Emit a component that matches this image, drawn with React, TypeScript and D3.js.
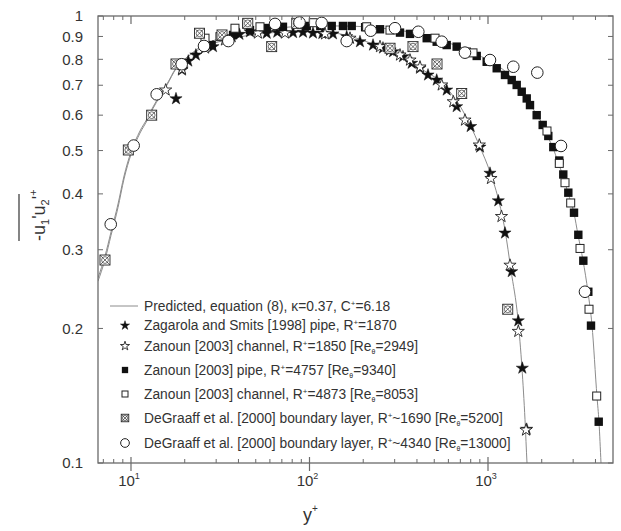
import React from 'react';
import * as d3 from 'd3';

// ---------------- data ----------------
const predictedLowX = [6.53, 7.15, 7.73, 8.46, 9.14, 10, 11.23, 12.29, 13.28, 14.54, 15.91, 17.87, 20.33, 24.36, 35.86, 52.8, 77.8, 114.5, 148.2, 226.9, 282.5, 351.8, 432.5, 538.3, 612.6, 696.8, 793.2, 902, 1026, 1138, 1245, 1345, 1473, 1550, 1612, 1654, 1680];
const predictedLowY = [0.2594, 0.2904, 0.3287, 0.3797, 0.4385, 0.4964, 0.5531, 0.5884, 0.6257, 0.6656, 0.7045, 0.7651, 0.8054, 0.844, 0.888, 0.912, 0.921, 0.921, 0.912, 0.866, 0.839, 0.801, 0.757, 0.715, 0.676, 0.629, 0.571, 0.509, 0.448, 0.392, 0.332, 0.27, 0.209, 0.163, 0.125, 0.1, 0.09];
const predictedHighX = [6.53, 7.15, 7.73, 8.46, 9.14, 10, 11.23, 12.29, 13.28, 14.54, 15.91, 17.87, 20.33, 24.36, 35.86, 52.8, 77.8, 114.5, 148.2, 282.5, 432.5, 538.3, 670.5, 824.1, 1026, 1278, 1511, 1719, 1882, 2033, 2169, 2313, 2468, 2632, 2807, 3033, 3193, 3406, 3633, 3824, 4080, 4186, 4296, 4350];
const predictedHighY = [0.255, 0.285, 0.323, 0.373, 0.432, 0.49, 0.547, 0.583, 0.621, 0.661, 0.701, 0.762, 0.803, 0.852, 0.902, 0.93, 0.945, 0.95, 0.95, 0.935, 0.907, 0.884, 0.857, 0.827, 0.793, 0.7455, 0.69, 0.635, 0.6, 0.5705, 0.536, 0.507, 0.471, 0.4385, 0.402, 0.362, 0.324, 0.284, 0.241, 0.2035, 0.1405, 0.1235, 0.1, 0.09];

// Zagarola and Smits [1998] pipe, R+=1870 (filled stars)
const zagarolaX = [17.87, 19.3, 20.94, 23.1, 28.8, 36.7, 40.5, 46.4, 57.6, 66, 80.9, 92, 104.6, 118, 135.4, 161.6, 191.8, 226.9, 258, 293.7, 334, 373.6, 415.9, 461.2, 516, 587, 667.6, 799.8, 902, 1026, 1142, 1245, 1358, 1478, 1557, 1648];
const zagarolaY = [0.653, 0.757, 0.793, 0.818, 0.854, 0.899, 0.91, 0.922, 0.915, 0.92, 0.918, 0.92, 0.916, 0.914, 0.912, 0.899, 0.876, 0.861, 0.848, 0.832, 0.811, 0.784, 0.764, 0.738, 0.719, 0.683, 0.627, 0.566, 0.509, 0.445, 0.386, 0.327, 0.268, 0.208, 0.163, 0.119];

// Zanoun [2003] channel, R+=1850 (open stars)
const zanounChLowX = [15.64, 19.31, 26.0, 33.6, 51.4, 72.9, 122.2, 168.6, 248.3, 282.5, 321.4, 365.6, 415.9, 550.4, 639, 743, 894, 1039, 1190, 1328, 1478, 1633];
const zanounChLowY = [0.683, 0.761, 0.848, 0.884, 0.916, 0.916, 0.912, 0.892, 0.854, 0.839, 0.818, 0.797, 0.769, 0.701, 0.643, 0.585, 0.5145, 0.433, 0.356, 0.277, 0.197, 0.1185];

// Zanoun [2003] pipe, R+=4757 (filled squares)
const zanounPipeX = [28.3, 37.3, 46.4, 57.6, 71.0, 96.5, 115, 133.2, 154, 172.4, 205, 248.3, 321.4, 365.6, 453.6, 516, 587, 667.6, 760, 864.5, 983.3, 1119, 1245, 1358, 1448, 1545, 1648, 1719, 1874, 2025, 2177, 2322, 2508, 2641, 2818, 3033, 3206, 3420, 3647, 3776, 4171];
const zanounPipeY = [0.861, 0.907, 0.93, 0.94, 0.946, 0.95, 0.95, 0.95, 0.95, 0.95, 0.944, 0.934, 0.918, 0.912, 0.892, 0.876, 0.861, 0.854, 0.832, 0.814, 0.79, 0.764, 0.738, 0.719, 0.701, 0.677, 0.654, 0.632, 0.6, 0.5705, 0.539, 0.509, 0.475, 0.442, 0.4025, 0.363, 0.324, 0.2835, 0.2416, 0.2029, 0.1237];

// Zanoun [2003] channel, R+=4873 (open squares)
const zanounChHighX = [25.98, 31.5, 38.24, 44.5, 52.8, 105, 209.1, 282.5, 505, 824, 2140, 2508, 2700, 2906, 3277, 3680, 4064];
const zanounChHighY = [0.892, 0.899, 0.939, 0.96, 0.946, 0.966, 0.946, 0.93, 0.892, 0.827, 0.553, 0.468, 0.4237, 0.3817, 0.302, 0.2208, 0.1412];

// DeGraaff et al. [2000] boundary layer, R+~1690 (crossed squares)
const degraaffLowX = [7.15, 9.66, 13.06, 17.87, 24.2, 32.35, 45.1, 61.4, 84.8, 282.5, 380, 518, 712.3, 1290];
const degraaffLowY = [0.2845, 0.5015, 0.6, 0.781, 0.915, 0.907, 0.963, 0.854, 0.963, 0.847, 0.854, 0.781, 0.671, 0.2208];

// DeGraaff et al. [2000] boundary layer, R+~4340 (open circles)
const degraaffHighX = [7.7, 10.35, 13.93, 19.23, 25.65, 35.1, 64.1, 87.9, 117.0, 161.6, 220.2, 301.3, 407, 550.4, 743, 1026, 1386, 1889, 2564, 3494];
const degraaffHighY = [0.342, 0.513, 0.668, 0.78, 0.857, 0.879, 0.96, 0.967, 0.965, 0.879, 0.927, 0.939, 0.922, 0.876, 0.828, 0.797, 0.77, 0.747, 0.512, 0.2416];

const yTickValues = [0.1, 0.2, 0.3, 0.4, 0.5, 0.6, 0.7, 0.8, 0.9, 1];
const yTickLabels = ['0.1', '0.2', '0.3', '0.4', '0.5', '0.6', '0.7', '0.8', '0.9', '1'];
const xMajorTicks = [10, 100, 1000];
const xMajorExponents = ['1', '2', '3'];
const xMinorTicks = [7, 8, 9, 20, 30, 40, 50, 60, 70, 80, 90, 200, 300, 400, 500, 600, 700, 800, 900, 2000, 3000, 4000];

type Seg = { t: string; k?: 'sup' | 'sub' };
const legendLabels: Seg[][] = [
  [{ t: 'Predicted, equation (8), κ=0.37, C' }, { t: '+', k: 'sup' }, { t: '=6.18' }],
  [{ t: 'Zagarola and Smits [1998] pipe, R' }, { t: '+', k: 'sup' }, { t: '=1870' }],
  [{ t: 'Zanoun [2003] channel, R' }, { t: '+', k: 'sup' }, { t: '=1850 [Re' }, { t: 'θ', k: 'sub' }, { t: '=2949]' }],
  [{ t: 'Zanoun [2003] pipe, R' }, { t: '+', k: 'sup' }, { t: '=4757 [Re' }, { t: 'θ', k: 'sub' }, { t: '=9340]' }],
  [{ t: 'Zanoun [2003] channel, R' }, { t: '+', k: 'sup' }, { t: '=4873 [Re' }, { t: 'θ', k: 'sub' }, { t: '=8053]' }],
  [{ t: 'DeGraaff et al. [2000] boundary layer, R' }, { t: '+', k: 'sup' }, { t: '~1690 [Re' }, { t: 'θ', k: 'sub' }, { t: '=5200]' }],
  [{ t: 'DeGraaff et al. [2000] boundary layer, R' }, { t: '+', k: 'sup' }, { t: '~4340 [Re' }, { t: 'θ', k: 'sub' }, { t: '=13000]' }],
];
const legendKinds = ['line', 'starFilled', 'starOpen', 'squareFilled', 'squareOpen', 'squareCrossed', 'circle'];

// ---------------- layout ----------------
const W = 621, H = 531;
const L = 98, R = 613, T = 16, B = 463;
const FONT = '"Liberation Sans", Arial, Helvetica, sans-serif';
const AXIS = '#6a6a6a';
const TEXT = '#333';
const legendRowY = [306, 325.5, 346, 370, 394, 418, 443];

function Marker({ kind, cx, cy, s = 1 }: { kind: string; cx: number; cy: number; s?: number }) {
  const tr = `translate(${cx},${cy})`;
  if (kind === 'starFilled' || kind === 'starOpen') {
    const d = d3.symbol(d3.symbolStar, 46 * s * s)() as string;
    return kind === 'starFilled'
      ? <path d={d} transform={tr} fill="#111" stroke="#111" strokeWidth={0.5} />
      : <path d={d} transform={tr} fill="#fff" stroke="#222" strokeWidth={0.9} />;
  }
  if (kind === 'squareFilled') {
    const h = 4.2 * s;
    return <rect x={cx - h} y={cy - h} width={2 * h} height={2 * h} fill="#111" />;
  }
  if (kind === 'squareOpen') {
    const h = 4 * s;
    return <rect x={cx - h} y={cy - h} width={2 * h} height={2 * h} fill="#fff" stroke="#222" strokeWidth={1} />;
  }
  if (kind === 'squareCrossed') {
    const h = 5 * s;
    return (
      <g>
        <rect x={cx - h} y={cy - h} width={2 * h} height={2 * h} fill="#fff" stroke="#222" strokeWidth={0.9} />
        <line x1={cx - h} y1={cy - h} x2={cx + h} y2={cy + h} stroke="#333" strokeWidth={0.7} />
        <line x1={cx - h} y1={cy + h} x2={cx + h} y2={cy - h} stroke="#333" strokeWidth={0.7} />
        <circle cx={cx} cy={cy} r={3.4 * s} fill="none" stroke="#333" strokeWidth={0.7} />
      </g>
    );
  }
  if (kind === 'circle') {
    return <circle cx={cx} cy={cy} r={5.8 * s} fill="#fff" stroke="#222" strokeWidth={1} />;
  }
  return null;
}

function LegendText({ segs, x, y }: { segs: Seg[]; x: number; y: number }) {
  const parts: any[] = [];
  let shift = 0;
  segs.forEach((sg, i) => {
    let target = 0;
    let fs: number | undefined;
    if (sg.k === 'sup') { target = -5; fs = 8; }
    if (sg.k === 'sub') { target = 3; fs = 7; }
    const dy = target - shift;
    shift = target;
    parts.push(<tspan key={i} dy={dy} fontSize={fs}>{sg.t}</tspan>);
  });
  return <text x={x} y={y} fontSize={13.8} fill={TEXT} fontFamily={FONT}>{parts}</text>;
}

export default function App() {
  const x = d3.scaleLog().domain([6.534, 5015]).range([L, R]);
  const y = d3.scaleLog().domain([0.1, 1]).range([B, T]);
  const line = d3.line<[number, number]>().x(d => x(d[0])).y(d => y(d[1])).curve(d3.curveMonotoneX);

  const zip = (xs: number[], ys: number[]) => xs.map((v, i) => [v, ys[i]] as [number, number]);

  const series = [
    { kind: 'starFilled', pts: zip(zagarolaX, zagarolaY) },
    { kind: 'starOpen', pts: zip(zanounChLowX, zanounChLowY) },
    { kind: 'squareFilled', pts: zip(zanounPipeX, zanounPipeY) },
    { kind: 'squareOpen', pts: zip(zanounChHighX, zanounChHighY) },
    { kind: 'squareCrossed', pts: zip(degraaffLowX, degraaffLowY) },
    { kind: 'circle', pts: zip(degraaffHighX, degraaffHighY) },
  ];

  return (
    <div style={{ position: 'absolute', left: 0, top: 0 }}>
      <svg width={W} height={H} style={{ display: 'block', background: '#fff' }}>
        <defs>
          <clipPath id="plotClip">
            <rect x={L} y={T} width={R - L} height={B - T} />
          </clipPath>
        </defs>

        {/* predicted curves */}
        <g clipPath="url(#plotClip)" fill="none" stroke="#8c8c8c" strokeWidth={1}>
          <path d={line(zip(predictedLowX, predictedLowY)) as string} />
          <path d={line(zip(predictedHighX, predictedHighY)) as string} />
        </g>

        {/* data markers */}
        <g clipPath="url(#plotClip)">
          {series.map((s, si) => (
            <g key={si}>
              {s.pts.map((p, i) => (
                <Marker key={i} kind={s.kind} cx={x(p[0])} cy={y(p[1])} />
              ))}
            </g>
          ))}
        </g>

        {/* frame */}
        <rect x={L} y={T} width={R - L} height={B - T} fill="none" stroke={AXIS} strokeWidth={1.3} />

        {/* y ticks */}
        {yTickValues.map((v, i) => (
          <g key={'yt' + i}>
            <line x1={L} x2={L + 5} y1={y(v)} y2={y(v)} stroke={AXIS} strokeWidth={1} />
            <line x1={R} x2={R - 5} y1={y(v)} y2={y(v)} stroke={AXIS} strokeWidth={1} />
            <text x={83} y={y(v)} dy="0.35em" textAnchor="end" fontSize={15} fill={TEXT} fontFamily={FONT}>{yTickLabels[i]}</text>
          </g>
        ))}

        {/* x ticks */}
        {xMinorTicks.map((v, i) => (
          <g key={'xm' + i}>
            <line x1={x(v)} x2={x(v)} y1={B} y2={B - 4} stroke={AXIS} strokeWidth={1} />
            <line x1={x(v)} x2={x(v)} y1={T} y2={T + 4} stroke={AXIS} strokeWidth={1} />
          </g>
        ))}
        {xMajorTicks.map((v, i) => (
          <g key={'xM' + i}>
            <line x1={x(v)} x2={x(v)} y1={B - 6} y2={B + 8} stroke={AXIS} strokeWidth={1.2} />
            <line x1={x(v)} x2={x(v)} y1={T} y2={T + 8} stroke={AXIS} strokeWidth={1.2} />
            <text x={x(v) - 2} y={486} textAnchor="middle" fontSize={15} fill={TEXT} fontFamily={FONT}>
              10<tspan dy={-7} fontSize={9}>{xMajorExponents[i]}</tspan>
            </text>
          </g>
        ))}

        {/* axis titles */}
        <text x={303} y={521} fontSize={18} fill={TEXT} fontFamily={FONT}>
          y<tspan dy={-9} fontSize={10}>+</tspan>
        </text>
        <g transform="translate(45,241) rotate(-90)">
          <text x={0} y={0} fontSize={18} fill={TEXT} fontFamily={FONT}>
            -u<tspan dy={4} fontSize={11}>1</tspan><tspan dy={-4}>'u</tspan><tspan dy={4} fontSize={11}>2</tspan><tspan dy={-4}>'</tspan><tspan dy={-8} fontSize={11}>+</tspan>
          </text>
          <line x1={0} x2={47} y1={-26} y2={-26} stroke={TEXT} strokeWidth={1.2} />
        </g>

        {/* legend */}
        {legendLabels.map((segs, i) => (
          <g key={'lg' + i}>
            {legendKinds[i] === 'line'
              ? <line x1={110} x2={138} y1={legendRowY[i]} y2={legendRowY[i]} stroke="#8c8c8c" strokeWidth={1} />
              : <Marker kind={legendKinds[i]} cx={125} cy={legendRowY[i]} s={0.75} />}
            <LegendText segs={segs} x={144} y={legendRowY[i] + 4.5} />
          </g>
        ))}
      </svg>
    </div>
  );
}
